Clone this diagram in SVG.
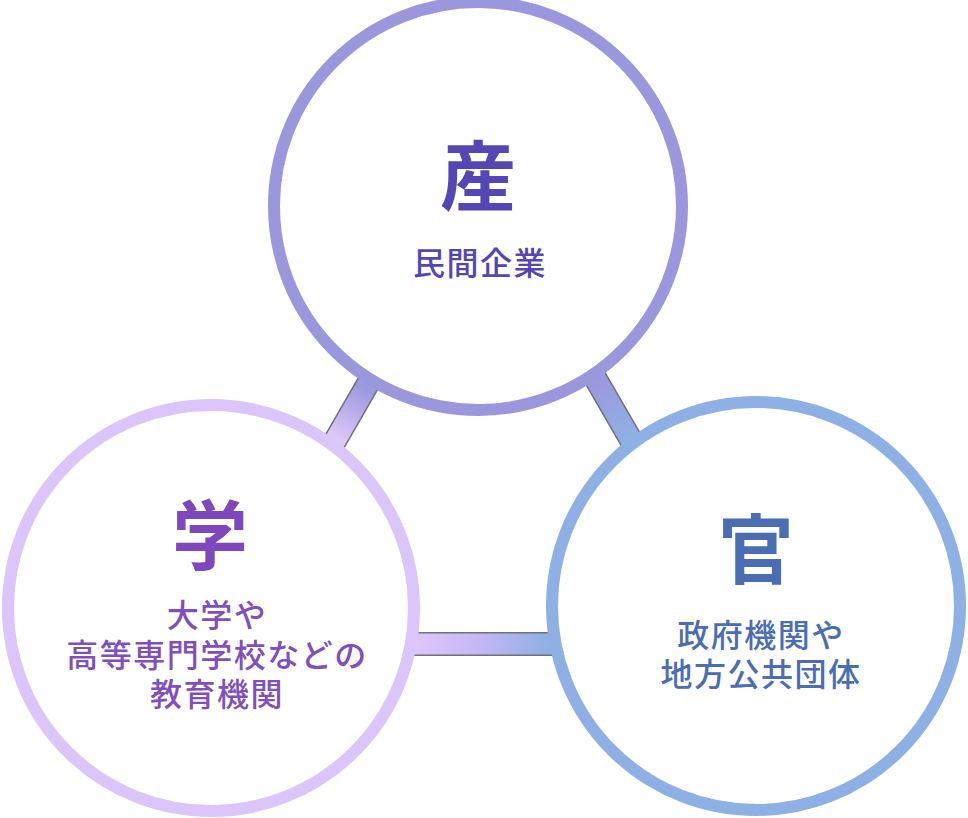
<svg xmlns="http://www.w3.org/2000/svg" width="968" height="818" viewBox="0 0 968 818">
<defs>
<style>
.ring{fill:#ffffff;stroke-width:12}
.edge{stroke:#707078;stroke-width:24;fill:none}
.bar{stroke-width:21;fill:none}
.big{font-family:"Noto Sans CJK JP","Noto Sans CJK SC",sans-serif;font-weight:bold;font-size:76px;text-anchor:middle}
.sub{font-family:"Noto Sans CJK JP","Noto Sans CJK SC",sans-serif;font-weight:500;font-size:32px;letter-spacing:1.5px;text-anchor:middle}
</style>
<linearGradient id="gL" gradientUnits="userSpaceOnUse" x1="365" y1="389" x2="337" y2="437">
<stop offset="0" stop-color="#9d99de"/><stop offset="1" stop-color="#dcc6fa"/>
</linearGradient>
<linearGradient id="gR" gradientUnits="userSpaceOnUse" x1="599" y1="384" x2="630" y2="437">
<stop offset="0" stop-color="#9b99de"/><stop offset="1" stop-color="#8eb0e4"/>
</linearGradient>
<linearGradient id="gB" gradientUnits="userSpaceOnUse" x1="418" y1="0" x2="548" y2="0">
<stop offset="0" stop-color="#dcc6fa"/><stop offset="0.5" stop-color="#c2b6f2"/><stop offset="1" stop-color="#8fb0e4"/>
</linearGradient>
</defs>
<g id="connectors">
<line class="edge" x1="483" y1="184" x2="218" y2="644"/>
<line class="edge" x1="483" y1="184" x2="749" y2="644"/>
<line class="edge" x1="218" y1="644" x2="749" y2="644"/>
<line class="bar" stroke="url(#gL)" x1="483" y1="184" x2="218" y2="644"/>
<line class="bar" stroke="url(#gR)" x1="483" y1="184" x2="749" y2="644"/>
<line class="bar" stroke="url(#gB)" x1="218" y1="644" x2="749" y2="644"/>
</g>
<g id="node-san">
<circle class="ring" cx="478" cy="206" r="204" stroke="#9b97dd"/>
<text class="big" x="478" y="205" fill="#5546b5">産</text>
<text class="sub" x="480" y="275" fill="#5546b5">民間企業</text>
</g>
<g id="node-gaku">
<circle class="ring" cx="211" cy="608" r="203" stroke="#dcc5fa"/>
<text class="big" x="210" y="564" fill="#7e47bd">学</text>
<text class="sub" x="217" y="627" fill="#7f4fc0">大学や</text>
<text class="sub" x="217" y="667" fill="#7f4fc0">高等専門学校などの</text>
<text class="sub" x="217" y="706" fill="#7f4fc0">教育機関</text>
</g>
<g id="node-kan">
<circle class="ring" cx="756" cy="606" r="204" stroke="#8fb0e5"/>
<text class="big" x="756" y="578" fill="#4a6db3">官</text>
<text class="sub" x="761" y="647" fill="#4a6db3">政府機関や</text>
<text class="sub" x="761" y="686" fill="#4a6db3">地方公共団体</text>
</g>
</svg>
